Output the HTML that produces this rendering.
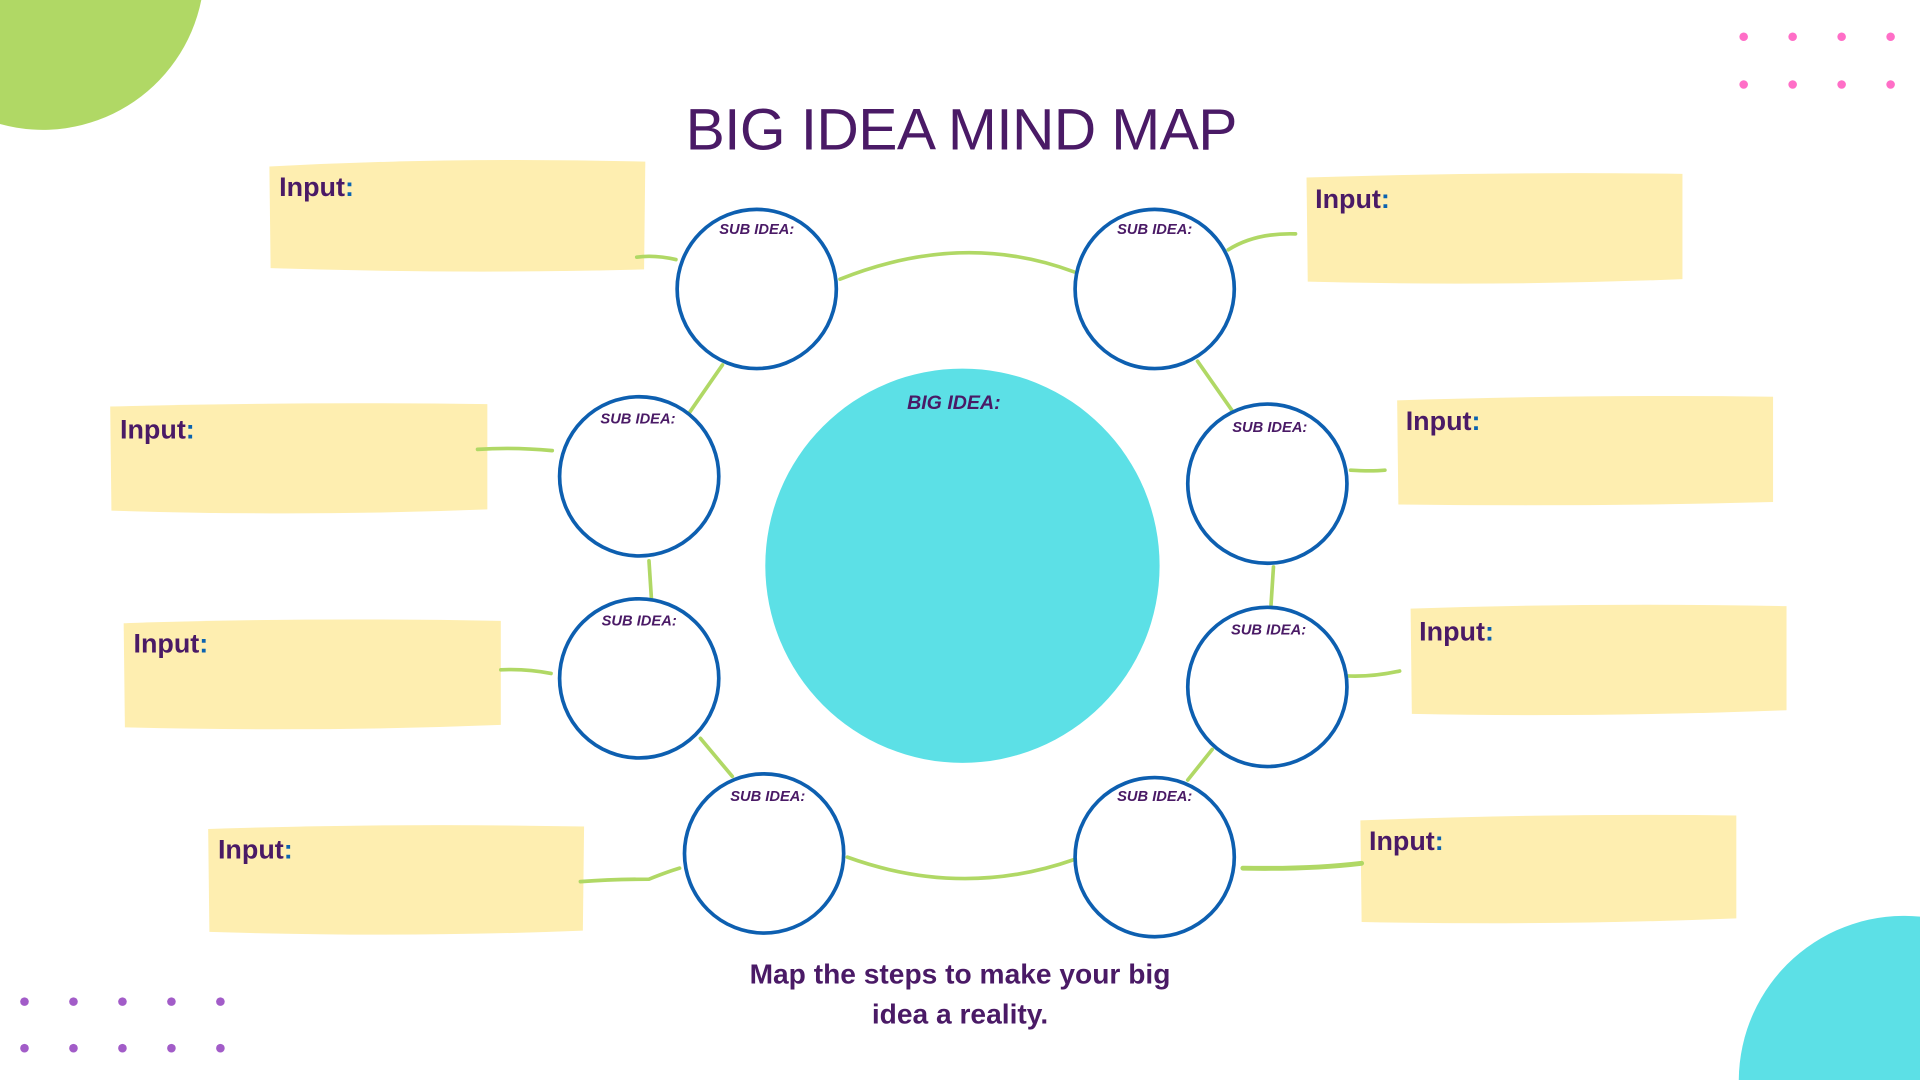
<!DOCTYPE html>
<html><head><meta charset="utf-8"><style>
html,body{margin:0;padding:0;background:#fff;width:1920px;height:1080px;overflow:hidden}
svg{display:block;position:absolute;top:0;left:0;width:1920px;height:1080px}
text{font-family:"Liberation Sans",sans-serif}
</style></head><body>
<svg width="1920" height="1080" viewBox="0 0 1568 882" xmlns="http://www.w3.org/2000/svg">
<path d="M0 0 L164.4 0 A132 132 0 0 1 0 101.3 Z" fill="#b0d865"/>
<path d="M1420 882 A135 135 0 0 1 1568 748.6 L1568 882 Z" fill="#5ce0e6"/>
<g fill="#ff6ec7">
<circle cx="1424" cy="30" r="3.5"/><circle cx="1464" cy="30" r="3.5"/><circle cx="1504" cy="30" r="3.5"/><circle cx="1544" cy="30" r="3.5"/>
<circle cx="1424" cy="69" r="3.5"/><circle cx="1464" cy="69" r="3.5"/><circle cx="1504" cy="69" r="3.5"/><circle cx="1544" cy="69" r="3.5"/>
</g>
<g fill="#a25cc8">
<circle cx="20" cy="818" r="3.5"/><circle cx="60" cy="818" r="3.5"/><circle cx="100" cy="818" r="3.5"/><circle cx="140" cy="818" r="3.5"/><circle cx="180" cy="818" r="3.5"/>
<circle cx="20" cy="856" r="3.5"/><circle cx="60" cy="856" r="3.5"/><circle cx="100" cy="856" r="3.5"/><circle cx="140" cy="856" r="3.5"/><circle cx="180" cy="856" r="3.5"/>
</g>
<text x="785" y="122" text-anchor="middle" font-size="48" fill="#4a1a66" letter-spacing="-0.5">BIG IDEA MIND MAP</text>
<g fill="#feeeb0">
<path d="M220 136 Q370 128 527 132 L526 220 Q380 224 221 219 Z"/>
<path d="M90 332 Q240 328 398 330 L398 416 Q250 422 91 417 Z"/>
<path d="M101 509 Q250 504 409 507 L409 592 Q260 598 102 594 Z"/>
<path d="M170 677 Q320 672 477 675 L476 760 Q330 766 171 761 Z"/>
<path d="M1067 145 Q1220 140 1374 142 L1374 228 Q1220 234 1068 230 Z"/>
<path d="M1141 327 Q1300 322 1448 324 L1448 410 Q1300 414 1142 412 Z"/>
<path d="M1152 497 Q1300 492 1459 495 L1459 580 Q1300 586 1153 583 Z"/>
<path d="M1111 670 Q1270 664 1418 666 L1418 750 Q1270 756 1112 753 Z"/>
</g>
<g font-size="22" font-weight="bold" fill="#4a1a66">
<text x="228" y="160">Input<tspan fill="#0a63b0">:</tspan></text>
<text x="98" y="358">Input<tspan fill="#0a63b0">:</tspan></text>
<text x="109" y="533">Input<tspan fill="#0a63b0">:</tspan></text>
<text x="178" y="701">Input<tspan fill="#0a63b0">:</tspan></text>
<text x="1074" y="170">Input<tspan fill="#0a63b0">:</tspan></text>
<text x="1148" y="351">Input<tspan fill="#0a63b0">:</tspan></text>
<text x="1159" y="523">Input<tspan fill="#0a63b0">:</tspan></text>
<text x="1118" y="694">Input<tspan fill="#0a63b0">:</tspan></text>
</g>
<g fill="none" stroke="#b0d865" stroke-width="3" stroke-linecap="round">
<path d="M686 228 Q786 188 877 222"/>
<path d="M692 700 Q786 734 877 702"/>
<path d="M590 298 L563 337"/>
<path d="M530 458 L532 489"/>
<path d="M572 603 L598 634"/>
<path d="M978 295 L1006 335"/>
<path d="M1040 463 L1038 494"/>
<path d="M990 612 L970 637"/>
<path d="M520 210 Q535 208 552 212"/>
<path d="M390 367 Q420 365 451 368"/>
<path d="M409 547 Q430 546 450 550"/>
<path d="M474 720 Q500 718 530 718 Q545 712 555 709"/>
<path d="M1003 204 Q1025 190 1058 191"/>
<path d="M1103 384 Q1120 385 1131 384"/>
<path d="M1100 552 Q1120 553 1143 548"/>
<path d="M1015 709 Q1070 710 1112 705" stroke-width="4"/>
</g>
<circle cx="786" cy="462" r="161" fill="#5ce0e6"/>
<text x="779" y="334" text-anchor="middle" font-size="16" font-weight="bold" font-style="italic" fill="#4a1a66">BIG IDEA:</text>
<g fill="#fff" stroke="#0d5fb0" stroke-width="3">
<circle cx="618" cy="236" r="65"/><circle cx="943" cy="236" r="65"/>
<circle cx="522" cy="389" r="65"/><circle cx="1035" cy="395" r="65"/>
<circle cx="522" cy="554" r="65"/><circle cx="1035" cy="561" r="65"/>
<circle cx="624" cy="697" r="65"/><circle cx="943" cy="700" r="65"/>
</g>
<g font-size="12" font-weight="bold" font-style="italic" fill="#4a1a66" text-anchor="middle">
<text x="618" y="191">SUB IDEA:</text><text x="943" y="191">SUB IDEA:</text>
<text x="521" y="346">SUB IDEA:</text><text x="1037" y="353">SUB IDEA:</text>
<text x="522" y="511">SUB IDEA:</text><text x="1036" y="518">SUB IDEA:</text>
<text x="627" y="654">SUB IDEA:</text><text x="943" y="654">SUB IDEA:</text>
</g>
<g font-size="23" font-weight="bold" fill="#4a1a66" text-anchor="middle">
<text x="784" y="803">Map the steps to make your big</text>
<text x="784" y="836">idea a reality.</text>
</g>
</svg>
</body></html>
